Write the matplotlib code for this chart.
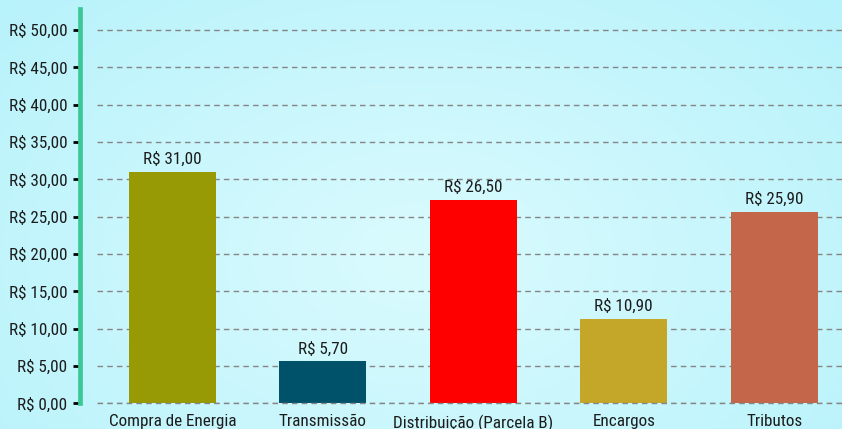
import numpy as np
from matplotlib import pyplot as plt
from matplotlib import font_manager

# data
categorias = ['Compra de Energia', 'Transmissão', 'Distribuição (Parcela B)', 'Encargos', 'Tributos']
rotulos = ['R$ 31,00', 'R$ 5,70', 'R$ 26,50', 'R$ 10,90', 'R$ 25,90']
alturas = [31.0, 5.6, 27.2, 11.3, 25.6]   # bar heights as drawn
cores = ['#979a05', '#00526a', '#ff0000', '#c4a629', '#c4664a']
yticks = [0, 5, 10, 15, 20, 25, 30, 35, 40, 45, 50]

# the reference uses a narrow face, take the narrowest one installed
preferidas = [('robotocondensed-regular', 12.3), ('opensanscondensed', 12),
              ('liberationsansnarrow-regular', 12.5), ('dejavusanscondensed.ttf', 11)]
arquivos = [f.fname for f in font_manager.fontManager.ttflist]
fp = None
for chave, tam in preferidas:
    achados = [a for a in arquivos if chave in a.lower().replace('_', '').replace(' ', '')]
    if achados:
        fp = font_manager.FontProperties(fname=achados[0], size=tam)
        break
if fp is None:
    fp = font_manager.FontProperties(family='DejaVu Sans', size=10)

fig = plt.figure(figsize=(8.42, 4.29), dpi=100)

# radial background gradient
bg = fig.add_axes([0, 0, 1, 1], zorder=-10)
xx, yy = np.meshgrid(np.linspace(0, 1, 400), np.linspace(0, 1, 200))
r = np.sqrt(((xx - 0.5) / 0.7) ** 2 + ((yy - 0.6) / 0.9) ** 2)
r = np.clip(r, 0, 1)[..., None]
c_in = np.array([218, 251, 254]) / 255
c_out = np.array([183, 242, 251]) / 255
bg.imshow(c_in * (1 - r) + c_out * r, aspect='auto', extent=[0, 1, 0, 1])
bg.axis('off')

ax = fig.add_axes([97 / 842, 1 - 403.3 / 429, 1 - 97 / 842, (403.3 - 9) / 429])
ax.patch.set_alpha(0)

x = np.arange(len(categorias))
barras = ax.bar(x, alturas, width=0.58, color=cores, zorder=3)
for b, txt in zip(barras, rotulos):
    ax.annotate(txt, (b.get_x() + b.get_width() / 2, b.get_height()),
                xytext=(0, 3.5), textcoords='offset points',
                ha='center', va='bottom', fontproperties=fp, color='#1c1c1c')

ax.set_xlim(-0.5, 4.45)
ax.set_ylim(0, 52.8)
ax.set_yticks(yticks)
ax.set_yticklabels(['R$ %d,00' % v for v in yticks])
ax.set_xticks(x)
ax.set_xticklabels(categorias)

estilo_grade = dict(linestyle=(0, (4, 3)), color='#858585', linewidth=1.0)
ax.yaxis.grid(True, zorder=1, **estilo_grade)
ax.set_axisbelow(True)
# the zero line sits on the axes edge, draw it unclipped
ax.axhline(0, zorder=4, clip_on=False, **estilo_grade)

for s in ['top', 'right', 'bottom']:
    ax.spines[s].set_visible(False)
ax.spines['left'].set_position(('outward', 12.5))
ax.spines['left'].set_color('#3cc896')
ax.spines['left'].set_linewidth(3.4)
ax.spines['left'].set_zorder(5)

ax.tick_params(axis='y', length=4.8, width=2, color='black',
               labelcolor='#1c1c1c', pad=4)
ax.tick_params(axis='x', length=0, labelcolor='#1c1c1c', pad=8)

for t in ax.get_xticklabels() + ax.get_yticklabels():
    t.set_fontproperties(fp)

fig.savefig('out.png', dpi=100)
